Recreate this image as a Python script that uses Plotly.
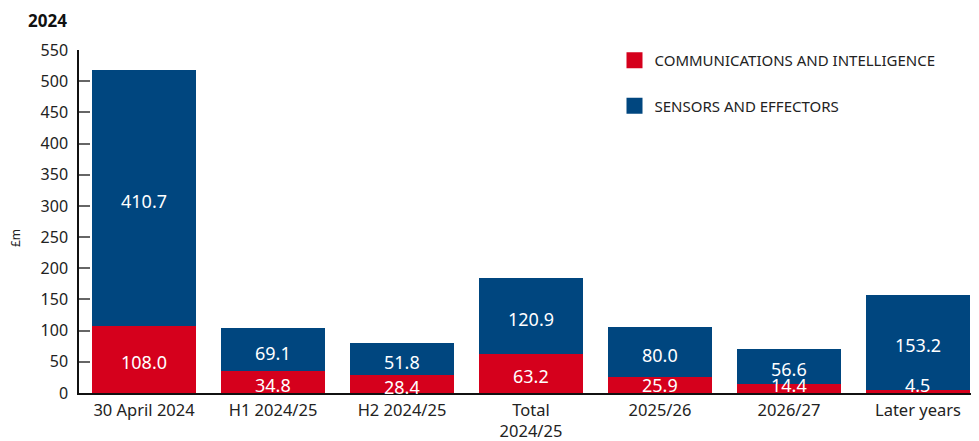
import plotly.graph_objects as go

categories = ["30 April 2024", "H1 2024/25", "H2 2024/25", "Total<br>2024/25", "2025/26", "2026/27", "Later years"]
comms = [108.0, 34.8, 28.4, 63.2, 25.9, 14.4, 4.5]
sensors = [410.7, 69.1, 51.8, 120.9, 80.0, 56.6, 153.2]
series_names = ["COMMUNICATIONS AND INTELLIGENCE", "SENSORS AND EFFECTORS"]
yticks = list(range(0, 551, 50))

RED = "#D5001C"
BLUE = "#00467F"
FONT = "Noto Sans"

# the page body has an 8px default margin; size the figure to fit the window
PAGE_OFF = 8
W, H = 979 - PAGE_OFF, 441 - PAGE_OFF
ML, MT, MB = 79 - PAGE_OFF, 50 - PAGE_OFF, 48
PW, PH = W - ML, H - MT - MB

x = list(range(len(categories)))
fig = go.Figure()
fig.add_trace(go.Bar(x=x, y=comms, marker_color=RED, marker_line_width=0, showlegend=False, width=0.806,
                     hoverinfo="y"))
fig.add_trace(go.Bar(x=x, y=sensors, marker_color=BLUE, marker_line_width=0, showlegend=False, width=0.806,
                     hoverinfo="y"))

# legend entries
for name, col, grp in zip(series_names, [RED, BLUE], ["a", "b"]):
    fig.add_trace(go.Scatter(x=[None], y=[None], mode="markers", name=name, legendgroup=grp,
                             marker=dict(symbol="square", size=16, color=col)))

# value labels
min_label = 13
annots = []
for xi, c, s in zip(x, comms, sensors):
    floor = c / 2 < min_label
    annots.append(dict(x=xi, y=max(c / 2, min_label), text=f"{c:.1f}", showarrow=False,
                       yshift=0 if floor else -3,
                       font=dict(color="white", size=18, family=FONT)))
    annots.append(dict(x=xi, y=c + s / 2, text=f"{s:.1f}", showarrow=False, yshift=-3,
                       font=dict(color="white", size=18, family=FONT)))

annots += [
    dict(text="<b>2024</b>", xref="paper", yref="paper", x=(27 - 79) / PW, y=1.0, yshift=MT,
         xanchor="left", yanchor="top", borderpad=0, showarrow=False, font=dict(size=17, color="#111")),
    dict(text="£m", xref="paper", yref="paper", x=(15 - 79) / PW, y=(393 - 238) / PH,
         xanchor="center", yanchor="middle", textangle=-90, showarrow=False, font=dict(size=12)),
]

fig.update_layout(
    width=W, height=H,
    margin=dict(l=ML, r=0, t=MT, b=MB, pad=0, autoexpand=False),
    plot_bgcolor="white", paper_bgcolor="white",
    barmode="stack",
    font=dict(family=FONT, size=15, color="#222"),
    legend=dict(x=0.595, y=1.0175, xanchor="left", yanchor="top", traceorder="grouped",
                tracegroupgap=23, font=dict(size=15, color="#222"), bgcolor="rgba(0,0,0,0)",
                itemwidth=30),
    xaxis=dict(tickmode="array", tickvals=x, ticktext=categories, range=[-0.504, 6.473],
               showline=True, linecolor="#111", linewidth=1.5, ticks="", showgrid=False,
               zeroline=False, tickfont=dict(size=16.5), automargin=False, ticklabelstandoff=1),
    yaxis=dict(range=[0, 550], tickvals=yticks, showline=True, linecolor="#111", linewidth=1.5,
               ticks="inside", ticklen=11, tickcolor="#666", tickwidth=1.5, showgrid=False, zeroline=False,
               tickfont=dict(size=16), ticklabelstandoff=6, automargin=False),
    annotations=annots,
)

fig.write_html("out.html")
